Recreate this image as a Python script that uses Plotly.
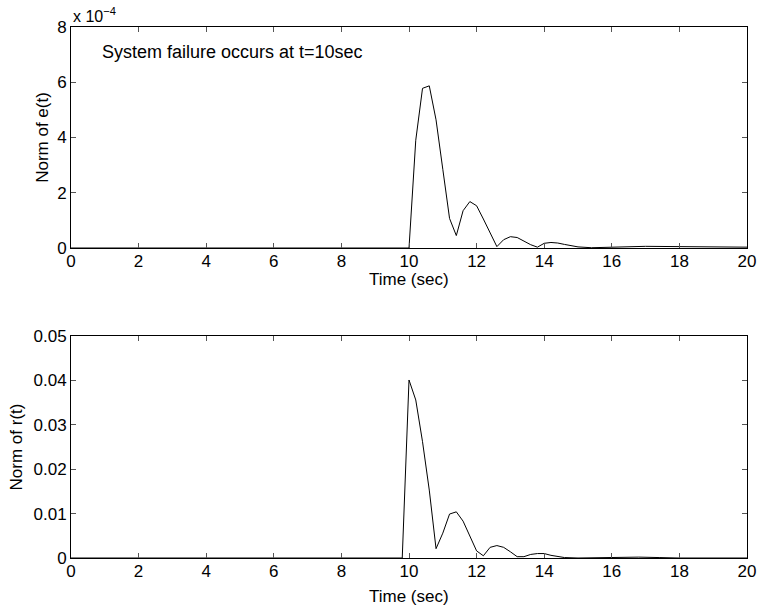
import plotly.graph_objects as go
from plotly.subplots import make_subplots

# Top panel: norm of e(t)
t_e = [0, 10.0, 10.2, 10.4, 10.6, 10.8, 11.0, 11.2, 11.4, 11.6, 11.8, 12.0, 12.2, 12.4,
       12.6, 12.8, 13.0, 13.2, 13.4, 13.6, 13.8, 14.0, 14.2, 14.4, 14.6, 14.8, 15.0,
       15.4, 15.8, 16.4, 17.0, 18.0, 19.0, 20.0]
e_norm = [0, 0, 3.9e-4, 5.78e-4, 5.87e-4, 4.64e-4, 2.85e-4, 1.07e-4, 0.45e-4, 1.35e-4,
          1.68e-4, 1.53e-4, 1.05e-4, 0.55e-4, 0.05e-4, 0.30e-4, 0.41e-4, 0.38e-4,
          0.25e-4, 0.12e-4, 0.03e-4, 0.17e-4, 0.20e-4, 0.18e-4, 0.13e-4, 0.08e-4,
          0.04e-4, 0.01e-4, 0.02e-4, 0.05e-4, 0.06e-4, 0.05e-4, 0.04e-4, 0.03e-4]

# Bottom panel: norm of r(t)
t_r = [0, 9.8, 10.0, 10.2, 10.4, 10.6, 10.8, 11.0, 11.2, 11.4, 11.6, 11.8, 12.0, 12.2,
       12.4, 12.6, 12.8, 13.0, 13.2, 13.4, 13.6, 13.8, 14.0, 14.2, 14.4, 14.6, 15.0,
       15.6, 16.2, 16.8, 17.4, 18.0, 20.0]
r_norm = [0, 0, 0.0401, 0.0356, 0.0262, 0.0153, 0.0021, 0.0056, 0.0099, 0.0104, 0.0083,
          0.0048, 0.0016, 0.0005, 0.0024, 0.0028, 0.0024, 0.0014, 0.0003, 0.0003,
          0.0008, 0.0010, 0.0010, 0.0006, 0.0003, 0.0001, 0.0, 0.0001, 0.0002, 0.0002,
          0.0001, 0.0, 0.0]

x_ticks = [0, 2, 4, 6, 8, 10, 12, 14, 16, 18, 20]
e_tickvals = [0, 2e-4, 4e-4, 6e-4, 8e-4]
e_ticktext = ["0", "2", "4", "6", "8"]
r_tickvals = [0, 0.01, 0.02, 0.03, 0.04, 0.05]
r_ticktext = ["0", "0.01", "0.02", "0.03", "0.04", "0.05"]

FONT = "Liberation Sans, Arial, sans-serif"
FS = 17
TXT = dict(family=FONT, size=FS, color="black")

fig = make_subplots(rows=2, cols=1)
fig.add_trace(go.Scatter(x=t_e, y=e_norm, mode="lines",
                         line=dict(color="black", width=1), showlegend=False), row=1, col=1)
fig.add_trace(go.Scatter(x=t_r, y=r_norm, mode="lines",
                         line=dict(color="black", width=1), showlegend=False), row=2, col=1)

common_x = dict(range=[0, 20], tickvals=x_ticks, ticktext=[str(v) for v in x_ticks],
                ticks="inside", ticklen=5, tickcolor="#555", showline=True, linecolor="black",
                linewidth=1, mirror="ticks", showgrid=False, zeroline=False, tickfont=TXT,
                automargin=False, ticklabelstandoff=-2)
common_y = dict(ticks="inside", ticklen=5, tickcolor="#555", showline=True, linecolor="black",
                linewidth=1, mirror="ticks", showgrid=False, zeroline=False, tickfont=TXT,
                automargin=False)

fig.update_xaxes(**common_x)
fig.update_yaxes(**common_y)

fig.update_layout(
    xaxis=dict(domain=[0, 1]),
    xaxis2=dict(domain=[0, 1]),
    yaxis=dict(domain=[0.5838, 1.0], range=[0, 8e-4], tickvals=e_tickvals, ticktext=e_ticktext,
               title=dict(text="Norm of e(t)", standoff=4, font=TXT)),
    yaxis2=dict(domain=[0.0, 0.418], range=[0, 0.05], tickvals=r_tickvals, ticktext=r_ticktext,
                title=dict(text="Norm of r(t)", standoff=6, font=TXT)),
    width=758, height=612,
    margin=dict(l=71, r=11, t=27, b=54),
    paper_bgcolor="white", plot_bgcolor="white",
    font=TXT,
    annotations=[
        dict(text="System failure occurs at t=10sec", xref="x", yref="y",
             x=0.86, y=7.1e-4, xanchor="left", yanchor="middle", showarrow=False,
             font=dict(family=FONT, size=18, color="black")),
        dict(text="x 10<sup>\u22124</sup>", xref="paper", yref="paper",
             x=0.0, y=1.0, xanchor="left", yanchor="bottom", showarrow=False,
             font=dict(family=FONT, size=16, color="black")),
        dict(text="Time (sec)", xref="paper", yref="paper", x=0.5, y=0.525,
             xanchor="center", yanchor="middle", showarrow=False, font=TXT),
        dict(text="Time (sec)", xref="paper", yref="paper", x=0.5, y=-0.0716,
             xanchor="center", yanchor="middle", showarrow=False, font=TXT),
    ],
)

fig.write_html("out.html", config={"displayModeBar": False},
               post_script="document.body.style.margin='0';document.body.style.overflow='hidden';")
